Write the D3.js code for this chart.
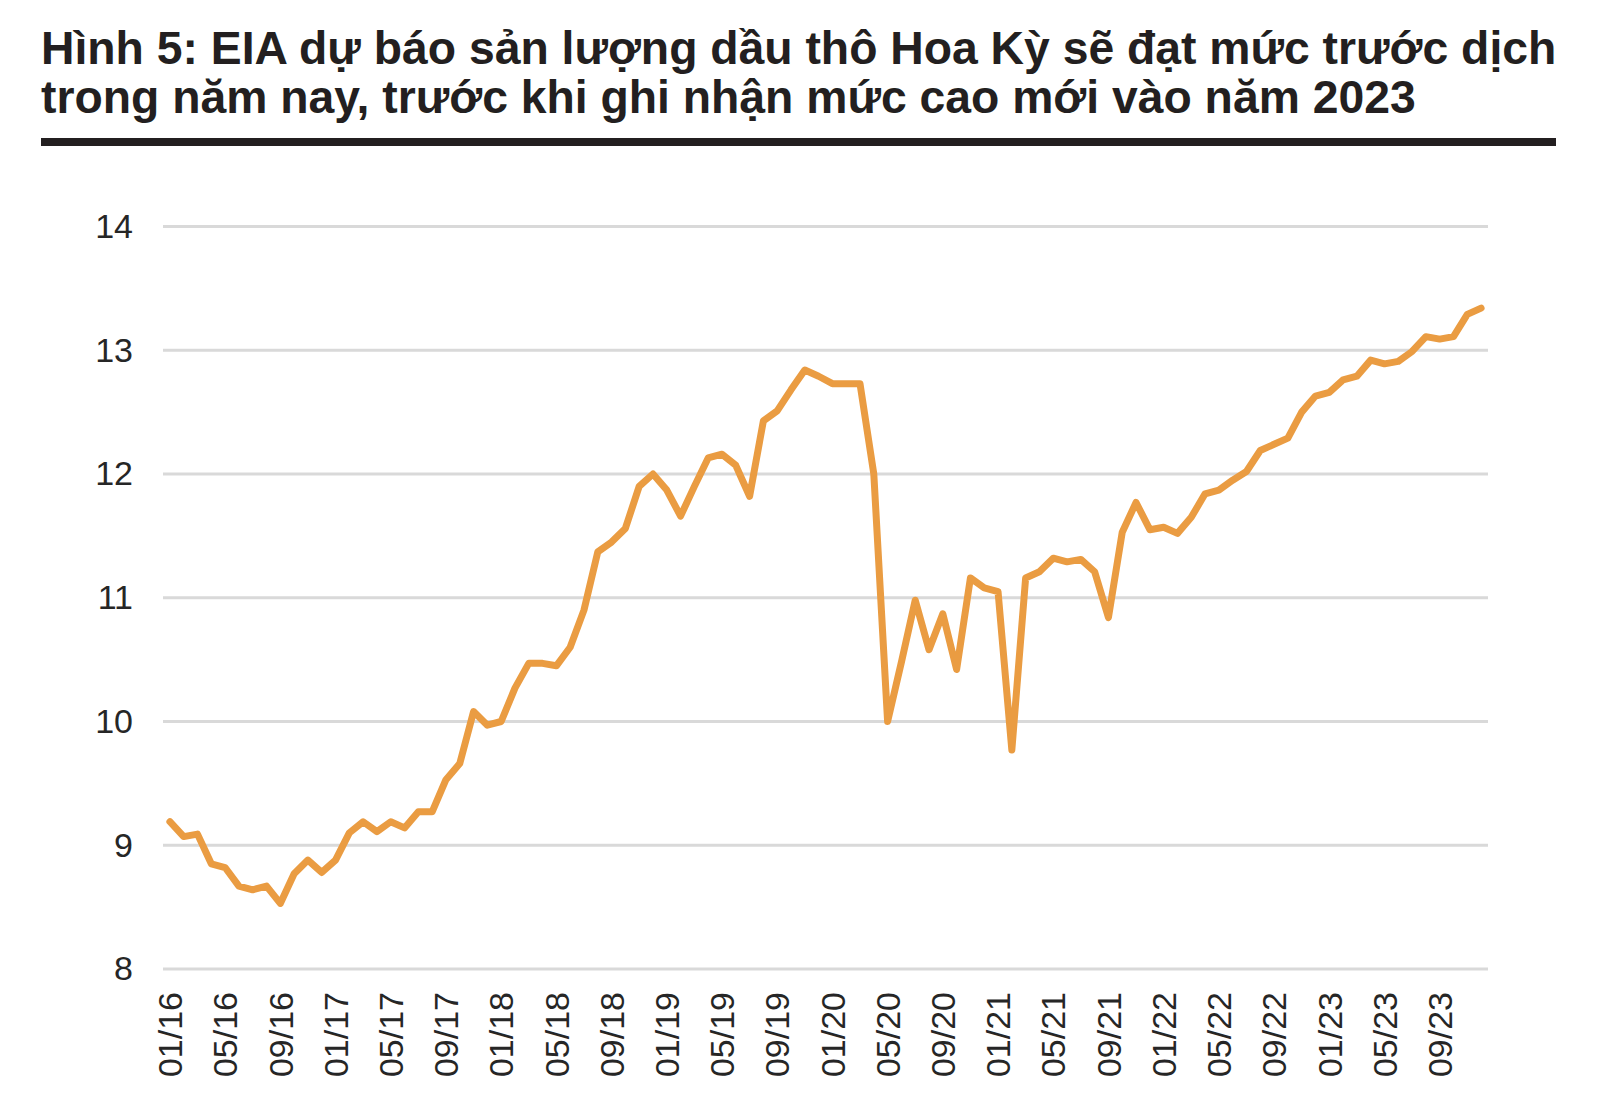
<!DOCTYPE html>
<html>
<head>
<meta charset="utf-8">
<script src="https://cdn.jsdelivr.net/npm/d3@7"></script>
<style>
  body { margin: 0; background: #fff; }
  svg { font-family: "Liberation Sans", Arial, sans-serif; }
</style>
</head>
<body>
<svg id="chart"></svg>
<script>
// title lines
const titleLines = [
  "Hình 5: EIA dự báo sản lượng dầu thô Hoa Kỳ sẽ đạt mức trước dịch",
  "trong năm nay, trước khi ghi nhận mức cao mới vào năm 2023"
];

// months 01/16 .. 12/23
const years = ["16", "17", "18", "19", "20", "21", "22", "23"];
const months = ["01", "02", "03", "04", "05", "06", "07", "08", "09", "10", "11", "12"];
const categories = years.flatMap((y) => months.map((m) => `${m}/${y}`));

// US crude oil production, million barrels per day
const production = [
  9.19, 9.07, 9.09, 8.85, 8.82, 8.67, 8.64, 8.67, 8.53, 8.77, 8.88, 8.78,
  8.88, 9.10, 9.19, 9.11, 9.19, 9.14, 9.27, 9.27, 9.53, 9.66, 10.08, 9.97,
  10.00, 10.27, 10.47, 10.47, 10.45, 10.60, 10.90, 11.37, 11.45, 11.56, 11.90, 12.00,
  11.87, 11.66, 11.90, 12.13, 12.16, 12.07, 11.82, 12.43, 12.51, 12.68, 12.84, 12.79,
  12.73, 12.73, 12.73, 12.00, 10.00, 10.48, 10.98, 10.58, 10.87, 10.42, 11.16, 11.08,
  11.05, 9.77, 11.16, 11.21, 11.32, 11.29, 11.31, 11.21, 10.84, 11.53, 11.77, 11.55,
  11.57, 11.52, 11.65, 11.84, 11.87, 11.95, 12.02, 12.19, 12.24, 12.29, 12.50, 12.63,
  12.66, 12.76, 12.79, 12.92, 12.89, 12.91, 12.99, 13.11, 13.09, 13.11, 13.29, 13.34
];

const yTicks = [8, 9, 10, 11, 12, 13, 14];
const xTickLabels = categories.filter((d, i) => i % 4 === 0);

const width = 1618;
const height = 1108;
const margin = { top: 226.5, right: 130, bottom: 139, left: 163 };

const svg = d3.select("#chart").attr("width", width).attr("height", height);

// title
svg
  .append("g")
  .selectAll("text")
  .data(titleLines)
  .join("text")
  .attr("x", 41)
  .attr("y", (d, i) => 64 + i * 49)
  .attr("font-size", 46.3)
  .attr("font-weight", "bold")
  .attr("fill", "#231f20")
  .text((d) => d);

svg
  .append("rect")
  .attr("x", 41)
  .attr("y", 138)
  .attr("width", 1515)
  .attr("height", 8)
  .attr("fill", "#231f20");

const xScale = d3
  .scaleBand()
  .domain(categories)
  .range([margin.left, width - margin.right]);

const yScale = d3
  .scaleLinear()
  .domain([8, 14])
  .range([height - margin.bottom, margin.top]);

// gridlines
svg
  .append("g")
  .selectAll("line")
  .data(yTicks)
  .join("line")
  .attr("x1", margin.left)
  .attr("x2", width - margin.right)
  .attr("y1", (d) => yScale(d))
  .attr("y2", (d) => yScale(d))
  .attr("stroke", "#d9d9d9")
  .attr("stroke-width", 3);

// y axis
const yAxis = svg
  .append("g")
  .attr("transform", `translate(${margin.left},0)`)
  .call(
    d3.axisLeft(yScale).tickValues(yTicks).tickFormat(d3.format("d")).tickSize(0).tickPadding(30)
  );
yAxis.select(".domain").remove();
yAxis
  .selectAll("text")
  .attr("font-size", 34)
  .attr("fill", "#262626")
  .attr("font-family", "Liberation Sans, Arial, sans-serif");

// x axis
const xAxis = svg
  .append("g")
  .attr("transform", `translate(0,${height - margin.bottom})`)
  .call(d3.axisBottom(xScale).tickValues(xTickLabels).tickSize(0));
xAxis.select(".domain").remove();
xAxis
  .selectAll("text")
  .attr("font-size", 34)
  .attr("fill", "#262626")
  .attr("font-family", "Liberation Sans, Arial, sans-serif")
  .attr("transform", "rotate(-90)")
  .attr("text-anchor", "end")
  .attr("x", -23)
  .attr("y", 0)
  .attr("dy", "0.36em");

// line
const line = d3
  .line()
  .x((d, i) => xScale(categories[i]) + xScale.bandwidth() / 2)
  .y((d) => yScale(d));

svg
  .append("path")
  .datum(production)
  .attr("fill", "none")
  .attr("stroke", "#ea9c42")
  .attr("stroke-width", 7)
  .attr("stroke-linejoin", "round")
  .attr("stroke-linecap", "round")
  .attr("d", line);
</script>
</body>
</html>
